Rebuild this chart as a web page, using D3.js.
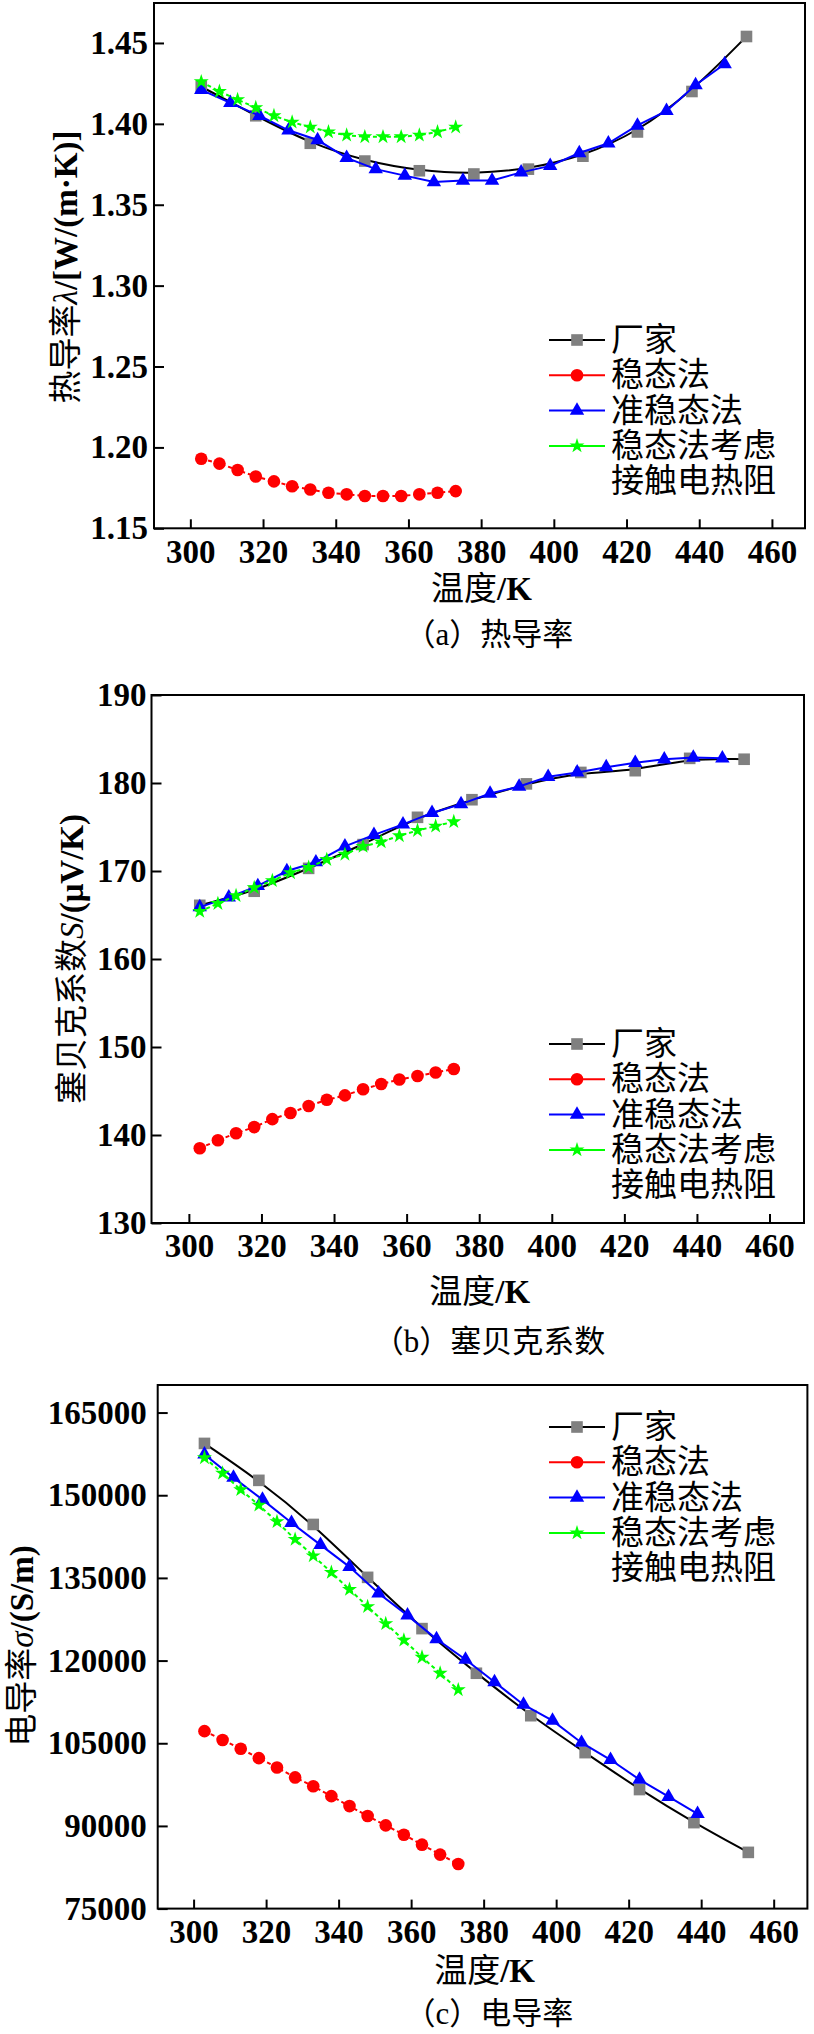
<!DOCTYPE html>
<html><head><meta charset="utf-8">
<script src="https://cdn.jsdelivr.net/npm/d3@7"></script>
<style>
body{margin:0;background:#fff}
svg text{font-family:"Liberation Serif","Times New Roman",Times,"Noto Sans CJK SC",serif;}
</style>
</head><body><svg id="c" width="814" height="2034"></svg>
<script>
// ---------- data ----------
const seriesNames = ["厂家", "稳态法", "准稳态法", "稳态法考虑接触电热阻"];
const legendLines = [["厂家"], ["稳态法"], ["准稳态法"], ["稳态法考虑", "接触电热阻"]];
const xTicks = [300, 320, 340, 360, 380, 400, 420, 440, 460];

const tempFactory = [303, 318, 333, 348, 363, 378, 393, 408, 423, 438, 453];
const tempSteady = [303, 308, 313, 318, 323, 328, 333, 338, 343, 348, 353, 358, 363, 368, 373];
const tempQuasi = [303, 311, 319, 327, 335, 343, 351, 359, 367, 375, 383, 391, 399, 407, 415, 423, 431, 439, 447];
const tempQuasiC = [303, 311, 319, 327, 335, 343, 351, 359, 367, 375, 383, 391, 399, 407, 415, 423, 431, 439];

// (a) thermal conductivity W/(m·K)
const yTicksA = [1.15, 1.20, 1.25, 1.30, 1.35, 1.40, 1.45];
const kFactory = [1.423, 1.405, 1.388, 1.377, 1.371, 1.369, 1.372, 1.380, 1.395, 1.420, 1.454];
const kSteady = [1.193, 1.190, 1.186, 1.182, 1.179, 1.176, 1.174, 1.172, 1.171, 1.170, 1.170, 1.170, 1.171, 1.172, 1.173];
const kQuasi = [1.421, 1.413, 1.405, 1.396, 1.390, 1.379, 1.372, 1.368, 1.364, 1.365, 1.365, 1.370, 1.374, 1.382, 1.388, 1.399, 1.408, 1.424, 1.437];
const kContact = [1.426, 1.420, 1.415, 1.410, 1.405, 1.401, 1.398, 1.395, 1.393, 1.392, 1.392, 1.392, 1.393, 1.395, 1.398];

// (b) Seebeck coefficient μV/K
const yTicksB = [130, 140, 150, 160, 170, 180, 190];
const sFactory = [166.1, 167.7, 170.3, 173.0, 176.1, 178.1, 179.9, 181.2, 181.4, 182.8, 182.7];
const sSteady = [138.5, 139.4, 140.2, 140.9, 141.8, 142.5, 143.3, 144.0, 144.5, 145.2, 145.8, 146.3, 146.7, 147.1, 147.5];
const sQuasi = [165.9, 167.0, 168.3, 170.0, 171.0, 172.8, 174.1, 175.3, 176.6, 177.6, 178.8, 179.6, 180.7, 181.2, 181.8, 182.3, 182.7, 182.9, 182.8];
const sContact = [165.4, 166.3, 167.2, 168.1, 168.9, 169.8, 170.4, 171.3, 171.9, 172.8, 173.3, 174.0, 174.6, 175.1, 175.6];

// (c) electrical conductivity S/m
const yTicksC = [75000, 90000, 105000, 120000, 135000, 150000, 165000];
const eFactory = [159400, 152700, 144700, 135100, 125800, 117700, 110000, 103300, 96600, 90600, 85200];
const eSteady = [107200, 105600, 104000, 102300, 100600, 98800, 97200, 95400, 93600, 91800, 90100, 88400, 86600, 84800, 83100];
const eQuasi = [157400, 153200, 149200, 145000, 141000, 137000, 132200, 128200, 123900, 120200, 116100, 112000, 109100, 105100, 102000, 98400, 95300, 92200];
const eContact = [156800, 154000, 151000, 148200, 145200, 142000, 139000, 136000, 132900, 129800, 126700, 123700, 120600, 117700, 114700];

// ---------- styles / layout ----------
const styles = [
  {line: "#000000", fill: "#808080", symbol: d3.symbolSquare, size: 135, dash: null, curve: d3.curveBasis},
  {line: "#ff0000", fill: "#ff0000", symbol: d3.symbolCircle, size: 125, dash: "4,3", curve: d3.curveLinear},
  {line: "#0000ff", fill: "#0000ff", symbol: d3.symbolTriangle, size: 90, dash: null, curve: d3.curveLinear},
  {line: "#00ff00", fill: "#00ff00", symbol: d3.symbolStar, size: 70, dash: "4,3", curve: d3.curveLinear}
];

const panels = [
  {box: {l: 154, r: 805, t: 3, b: 528.3}, xd: [290, 469.1], yd: [1.15, 1.4747], yt: yTicksA, fmt: d3.format(".2f"), ypad: 6,
   temps: [tempFactory, tempSteady, tempQuasi, tempSteady], vals: [kFactory, kSteady, kQuasi, kContact],
   ytitle: {x: 66, y: 267, parts: [["热导率", "n"], ["λ", "i"], ["/[W/(m·K)]", "b"]]},
   xtitleY: 589, caption: {y: 634, text: "（a）热导率"}, legendY: 340},
  {box: {l: 151.5, r: 804, t: 695, b: 1223}, xd: [289.7, 469.5], yd: [130, 190], yt: yTicksB, fmt: d3.format("d"), ypad: 5,
   temps: [tempFactory, tempSteady, tempQuasi, tempSteady], vals: [sFactory, sSteady, sQuasi, sContact],
   ytitle: {x: 72, y: 959, parts: [["塞贝克系数", "n"], ["S", "i"], ["/(μV/K)", "b"]]},
   xtitleY: 1292, caption: {y: 1341, text: "（b）塞贝克系数"}, legendY: 1044},
  {box: {l: 157.7, r: 807.4, t: 1385, b: 1908.6}, xd: [290.1, 469.3], yd: [75000, 170000], yt: yTicksC, fmt: d3.format("d"), ypad: 11,
   temps: [tempFactory, tempSteady, tempQuasiC, tempSteady], vals: [eFactory, eSteady, eQuasi, eContact],
   ytitle: {x: 22, y: 1646, parts: [["电导率", "n"], ["σ", "i"], ["/(S/m)", "b"]]},
   xtitleY: 1971, caption: {y: 2013, text: "（c）电导率"}, legendY: 1427}
];

const svg = d3.select("#c");

panels.forEach(p => {
  const x = d3.scaleLinear().domain(p.xd).range([p.box.l, p.box.r]);
  const y = d3.scaleLinear().domain(p.yd).range([p.box.b, p.box.t]);
  const g = svg.append("g");

  // axes
  const xa = g.append("g").attr("transform", `translate(0,${p.box.b})`)
    .call(d3.axisBottom(x).tickValues(xTicks).tickSizeInner(-9).tickSizeOuter(0).tickPadding(11));
  const ya = g.append("g").attr("transform", `translate(${p.box.l},0)`)
    .call(d3.axisLeft(y).tickValues(p.yt).tickFormat(p.fmt).tickSizeInner(-10).tickSizeOuter(0).tickPadding(p.ypad));
  [xa, ya].forEach(a => {
    a.attr("font-family", null).attr("font-size", null);
    a.select(".domain").remove();
    a.selectAll(".tick line").attr("stroke", "#000").attr("stroke-width", 2);
    a.selectAll(".tick text").style("font-size", "33px").style("font-weight", "bold").attr("fill", "#000");
  });

  // frame
  g.append("rect").attr("x", p.box.l).attr("y", p.box.t)
    .attr("width", p.box.r - p.box.l).attr("height", p.box.b - p.box.t)
    .attr("fill", "none").attr("stroke", "#000").attr("stroke-width", 2);

  // series
  styles.forEach((s, i) => {
    const pts = p.temps[i].map((t, j) => [t, p.vals[i][j]]);
    const line = d3.line().x(d => x(d[0])).y(d => y(d[1])).curve(s.curve);
    g.append("path").attr("d", line(pts)).attr("fill", "none")
      .attr("stroke", s.line).attr("stroke-width", 2)
      .attr("stroke-dasharray", s.dash);
    g.selectAll(null).data(pts).enter().append("path")
      .attr("d", d3.symbol().type(s.symbol).size(s.size))
      .attr("transform", d => `translate(${x(d[0])},${y(d[1])})`)
      .attr("fill", s.fill);
  });

  // legend
  let row = 0;
  styles.forEach((s, i) => {
    const ly = p.legendY + row * 35.3;
    g.append("line").attr("x1", 549).attr("x2", 605).attr("y1", ly).attr("y2", ly)
      .attr("stroke", s.line).attr("stroke-width", 2);
    g.append("path").attr("d", d3.symbol().type(s.symbol).size(s.size)())
      .attr("transform", `translate(577,${ly})`).attr("fill", s.fill);
    legendLines[i].forEach(txt => {
      g.append("text").attr("x", 611).attr("y", p.legendY + row * 35.3)
        .attr("dominant-baseline", "central").style("font-size", "33px").text(txt);
      row++;
    });
  });

  // x title
  const xt = g.append("text").attr("x", (p.box.l + p.box.r) / 2 + 2).attr("y", p.xtitleY)
    .attr("text-anchor", "middle").attr("dominant-baseline", "central")
    .style("font-size", "33px");
  xt.append("tspan").text("温度");
  xt.append("tspan").style("font-weight", "bold").text("/K");
  // caption
  g.append("text").attr("x", 489).attr("y", p.caption.y)
    .attr("text-anchor", "middle").attr("dominant-baseline", "central")
    .style("font-size", "31px").text(p.caption.text);
  // y title
  const yt = g.append("text").attr("transform", `translate(${p.ytitle.x},${p.ytitle.y}) rotate(-90)`)
    .attr("text-anchor", "middle").attr("dominant-baseline", "central")
    .style("font-size", "33px");
  p.ytitle.parts.forEach(([t, st]) => {
    yt.append("tspan").style("font-style", st === "i" ? "italic" : "normal")
      .style("font-weight", st === "b" ? "bold" : "normal").text(t);
  });
});
</script>
</body></html>
